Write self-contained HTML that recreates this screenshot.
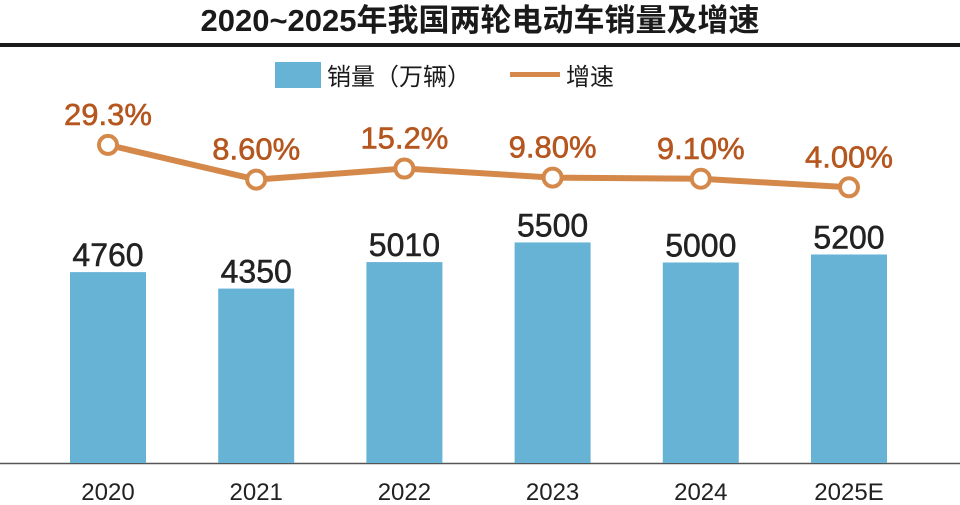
<!DOCTYPE html>
<html><head><meta charset="utf-8"><style>
html,body{margin:0;padding:0;background:#fff;width:960px;height:505px;overflow:hidden}
svg{display:block;font-family:"Liberation Sans","Noto Sans CJK SC",sans-serif}
</style></head><body>
<svg id="chart" width="960" height="505">
<text x="480" y="31" text-anchor="middle" font-size="31" font-weight="bold" fill="#1a1a1a">2020~2025年我国两轮电动车销量及增速</text>
<rect x="0" y="43" width="960" height="4" fill="#1a1a1a"/>
<g>
<rect x="275" y="62" width="46" height="26" fill="#66b3d6"/>
<text x="327" y="85" font-size="24" fill="#1a1a1a">销量（万辆）</text>
<rect x="510" y="72" width="50" height="5" fill="#d4894a"/>
<text x="566" y="85" font-size="24" fill="#1a1a1a">增速</text>
</g>
<line x1="0" y1="463.5" x2="960" y2="463.5" stroke="#555" stroke-width="1.5"/>
<g id="bars"></g><g id="line"></g>
</svg>
<script>
const categories=["2020","2021","2022","2023","2024","2025E"];
const sales=[4760,4350,5010,5500,5000,5200];
const growth=[29.3,8.6,15.2,9.8,9.1,4.0];
const growthLabels=["29.3%","8.60%","15.2%","9.80%","9.10%","4.00%"];
const NS="http://www.w3.org/2000/svg";
const xc=i=>108+i*148.2;
const yBar=v=>463-v*0.0401;
const yLine=v=>194-v*1.675;
function mk(t,a){const e=document.createElementNS(NS,t);for(const k in a)e.setAttribute(k,a[k]);return e;}
const gb=document.getElementById('bars'),gl=document.getElementById('line');
categories.forEach((c,i)=>{
 const x=xc(i),y=yBar(sales[i]);
 const r=mk('rect',{x:x-38,y:y,width:76,height:463-y,fill:'#66b3d6'});
 
 
 gb.appendChild(r);
 const t=mk('text',{x:x,y:y-6,'text-anchor':'middle','font-size':'32',fill:'#222','stroke':'#222','stroke-width':'0.5'});
 t.textContent=sales[i];
 
 
 gb.appendChild(t);
 const l=mk('text',{x:x,y:500,'text-anchor':'middle','font-size':'24',fill:'#222'});
 l.textContent=c;
 
 
 gb.appendChild(l);
});
const pts=growth.map((v,i)=>xc(i)+','+yLine(v)).join(' ');
const pl=mk('polyline',{points:pts,fill:'none',stroke:'#d4894a','stroke-width':'6','stroke-linejoin':'round'});


gl.appendChild(pl);
growth.forEach((v,i)=>{
 const x=xc(i),y=yLine(v);
 const c=mk('circle',{cx:x,cy:y,r:9,fill:'#fff',stroke:'#d4894a','stroke-width':'4'});
 
 
 gl.appendChild(c);
 const t=mk('text',{x:x,y:y-20,'text-anchor':'middle','font-size':'31',fill:'#b5561e','stroke':'#b5561e','stroke-width':'0.6'});
 t.textContent=growthLabels[i];
 
 
 gl.appendChild(t);
});
</script>
</body></html>
